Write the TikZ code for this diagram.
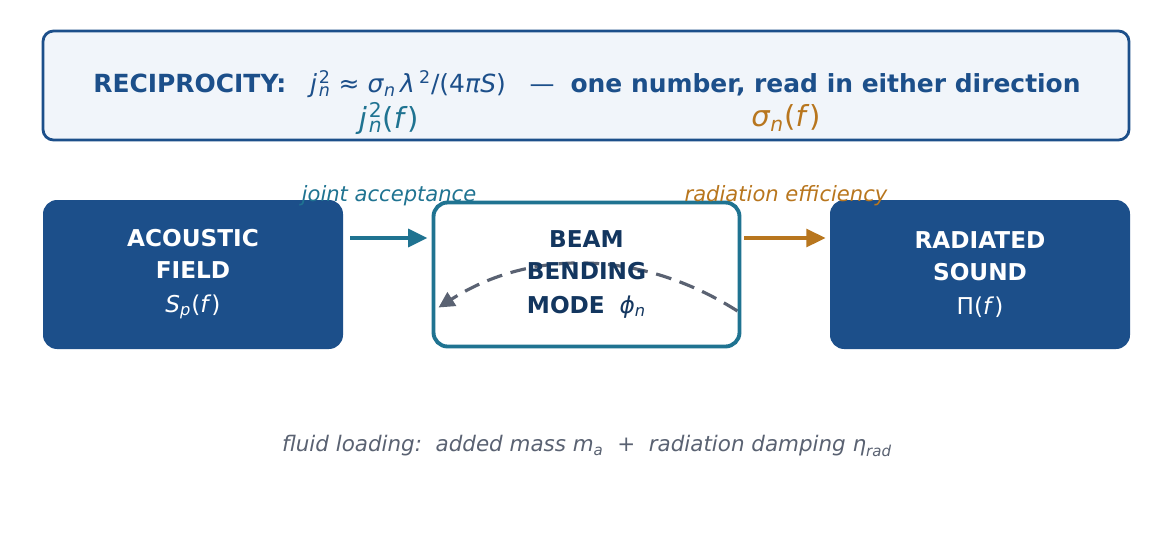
\documentclass[tikz,border=0pt]{standalone}
\usepackage{fontspec}
\setmainfont{DejaVu Sans}
\usetikzlibrary{arrows.meta,calc,backgrounds}

\definecolor{boxblue}{HTML}{1C4F8A}
\definecolor{headfill}{HTML}{F1F5FA}
\definecolor{beamteal}{HTML}{1F7391}
\definecolor{beamnavy}{HTML}{13365F}
\definecolor{radorange}{HTML}{B8761E}
\definecolor{loadgrey}{HTML}{5A6272}

% stacked super- and subscript
\newcommand{\supsub}[2]{\kern1pt\rlap{\textsuperscript{#1}}\textsubscript{#2}}
\newcommand{\vi}[1]{\textit{#1}}

\tikzset{
  headbox/.style={draw=boxblue, line width=1.6pt, fill=headfill, rounded corners=6pt,
    minimum width=1086*0.02cm, minimum height=109*0.02cm},
  solidbox/.style={fill=boxblue, text=white, rounded corners=8pt, align=center,
    minimum width=300*0.02cm, minimum height=149*0.02cm,
    font=\fontsize{13.2}{18.2}\selectfont},
  beambox/.style={draw=beamteal, line width=2.2pt, fill=none, text=beamnavy, rounded corners=8pt,
    align=center, minimum width=306*0.02cm, minimum height=144*0.02cm,
    font=\fontsize{13.2}{18.2}\selectfont},
  flow/.style={line width=2.4pt, -{Triangle[length=11pt,width=10pt]}},
  edgelabel/.style={font=\fontsize{12}{14}\selectfont\itshape},
}

\begin{document}
\begin{tikzpicture}[x=0.02cm,y=0.02cm]
  \useasboundingbox (0,0) rectangle (1172,549);
  \begin{scope}[on background layer]
    \fill[white] (0,0) rectangle (1172,549);
  \end{scope}

  % reciprocity banner
  \node[headbox] (head) at (586,463.5) {};
  \node[text=boxblue, font=\fontsize{14.2}{16}\selectfont] (recip) at (587,465)
    {\textbf{RECIPROCITY:}\ \ \ \vi{j}\supsub{2}{\vi{n}} ≈ \vi{σ}\textsubscript{\vi{n}}\,\vi{λ}\,\textsuperscript{2}/(4\vi{π}\vi{S})\ \ \ —\ \ \textbf{one number, read in either direction}};
  \node[text=beamteal, font=\fontsize{16.5}{18}\selectfont] (jterm) at (389,431)
    {\vi{j}\supsub{2}{\vi{n}}(\vi{f})};
  \node[text=radorange, font=\fontsize{16.5}{18}\selectfont] (sigterm) at (786,431)
    {\vi{σ}\textsubscript{\vi{n}}(\vi{f})};

  % chain
  \node[solidbox] (acoustic) at (193,274.5)
    {\textbf{ACOUSTIC}\\\textbf{FIELD}\\[1pt]\vi{S}\textsubscript{\vi{p}}(\vi{f})};
  \node[beambox] (beam) at (586.5,274.5)
    {\textbf{BEAM}\\\textbf{BENDING}\\[1pt]\textbf{MODE}\ \ \vi{ϕ}\textsubscript{\vi{n}}};
  \node[solidbox] (radiated) at (980,274.5)
    {\textbf{RADIATED}\\\textbf{SOUND}\\[1pt]Π(\vi{f})};

  \draw[flow, beamteal] ($(acoustic.east)+(7,36.5)$) -- ($(beam.west)+(-4,36.5)$);
  \draw[flow, radorange] ($(beam.east)+(3,36.5)$) -- ($(radiated.west)+(-4,36.5)$);
  \node[edgelabel, text=beamteal] (jlabel) at (389,353) {joint acceptance};
  \node[edgelabel, text=radorange] (slabel) at (786,353) {radiation efficiency};

  % fluid loading feedback
  \begin{scope}[on background layer]
    \draw[loadgrey, line width=1.8pt, dash pattern=on 9pt off 5pt,
      -{Triangle[length=9pt,width=9pt]}]
      ($(beam.east)+(-4,-36.5)$) .. controls (640,300) and (530,300) .. ($(beam.west)+(7,-33)$);
  \end{scope}
  \node[text=loadgrey, font=\fontsize{12.2}{15}\selectfont\itshape] (loading) at (587,103)
    {fluid loading:\ \ added mass m\textsubscript{a}\ \ \textup{+}\ \ radiation damping η\textsubscript{rad}};
\end{tikzpicture}
\end{document}
